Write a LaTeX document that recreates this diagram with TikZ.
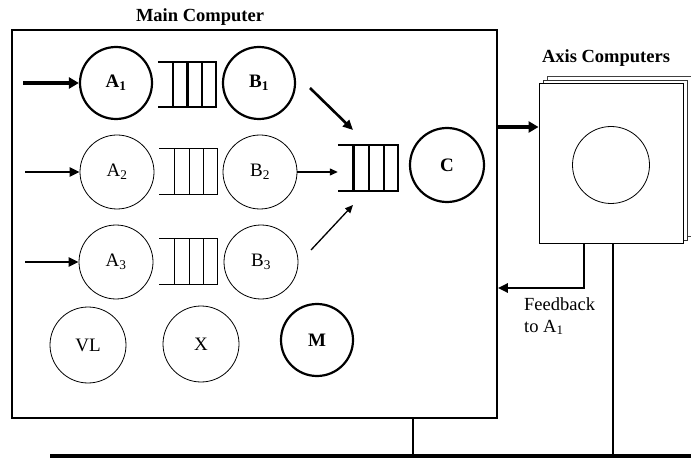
\documentclass[tikz,border=0pt]{standalone}
\usepackage{fontspec}
\setmainfont{Liberation Serif}
\usetikzlibrary{arrows.meta,calc}
\begin{document}
\begin{tikzpicture}[x=1pt,y=-1pt,
  boldc/.style={circle,draw,line width=2.2pt,minimum size=72pt,inner sep=0pt,font=\fontsize{19}{19}\selectfont\bfseries},
  thinc/.style={circle,draw,line width=0.8pt,minimum size=74pt,inner sep=0pt,font=\fontsize{19}{19}\selectfont},
  qbox/.style={rectangle,minimum width=58pt,minimum height=45pt,inner sep=0pt},
  bigarrow/.style={-{Triangle[length=10pt,width=11pt]},line width=3.5pt},
  thinarrow/.style={-{Triangle[length=8pt,width=7pt]},line width=1.3pt},
  medarrow/.style={-{Triangle[length=10pt,width=9pt]},line width=2.6pt},
  title/.style={font=\fontsize{18.5}{18.5}\selectfont\bfseries},
  axbox/.style={draw,line width=0.9pt,fill=white,minimum width=144pt,minimum height=160pt,inner sep=0pt}
]
\useasboundingbox (0,0) rectangle (691,465);

% main computer box
\node[draw,line width=1.6pt,minimum width=485pt,minimum height=388pt,inner sep=0pt] (main) at (254.5,224) {};
\node[title] (maintitle) at (200,17) {Main Computer};

% row 1
\node[boldc] (A1) at (116,83) {A\textsubscript{1}};
\node[qbox] (q1) at (187,84.5) {};
\node[boldc] (B1) at (259,83) {B\textsubscript{1}};
% row 2
\node[thinc] (A2) at (117,172) {A\textsubscript{2}};
\node[qbox] (q2) at (188.5,171.5) {};
\node[thinc] (B2) at (260,172) {B\textsubscript{2}};
% row 3
\node[thinc] (A3) at (116,262) {A\textsubscript{3}};
\node[qbox] (q3) at (188.5,261.5) {};
\node[thinc] (B3) at (261,262) {B\textsubscript{3}};
% bottom row
\node[thinc,minimum size=76pt] (VL) at (88,345) {VL};
\node[thinc,minimum size=76pt] (X) at (201,344) {X};
\node[boldc] (M) at (317,340) {M};

% C
\node[qbox,minimum width=60pt,minimum height=46pt] (qc) at (368,168) {};
\node[boldc,minimum size=74pt] (C) at (447,165) {C};

% queues
\foreach \q/\w in {q1/2.2pt,q2/0.8pt,q3/0.8pt,qc/2.2pt}{
  \draw[line width=\w] (\q.north west) -- (\q.north east) -- (\q.south east) -- (\q.south west);
  \foreach \f in {0.26,0.51,0.76}
    \draw[line width=\w] ($(\q.north west)!\f!(\q.north east)$) -- ($(\q.south west)!\f!(\q.south east)$);
}

% input arrows
\coordinate (in1) at (23,83);
\coordinate (in2) at (25,172);
\coordinate (in3) at (25,262);
\draw[bigarrow] (in1) -- (A1.west);
\draw[medarrow] (in2) -- (A2.west);
\draw[medarrow] (in3) -- (A3.west);

% arrows to C queue
\coordinate (c1s) at (310,88);
\coordinate (c1e) at (353,130);
\draw[medarrow] (c1s) -- (c1e);
\draw[thinarrow] (B2.east) -- (qc.west |- B2.east);
\coordinate (c3s) at (311,250);
\coordinate (c3e) at (353,205);
\draw[thinarrow] (c3s) -- (c3e);

% axis computers
\node[axbox,draw=black!75] (ax3) at (619,156) {};
\node[axbox,draw=black!80] (ax2) at (615,160) {};
\node[axbox] (ax) at (611,163) {};
\node[circle,draw,line width=0.8pt,minimum size=77pt,inner sep=0pt] (axc) at (611,165) {};
\node[title] (axtitle) at (606,58) {Axis Computers};

\draw[bigarrow] (main.east |- 0,127) -- (ax.west |- 0,127);

% feedback
\coordinate (fb1) at (584,288);
\draw[line width=2.5pt,-{Triangle[length=10pt,width=9pt]}] (ax.south -| fb1) -- (fb1) -- (main.east |- fb1);
\node[anchor=north west,align=left,inner sep=0pt,font=\fontsize{18.5}{22}\selectfont] (fbtext) at (524,297) {Feedback\\to A\textsubscript{1}};

% bus
\coordinate (busL) at (50,456);
\coordinate (busR) at (691,456);
\draw[line width=3.5pt] (busL) -- (busR);
\draw[line width=1.2pt] (main.south -| 413,0) -- (413,456);
\draw[line width=1.2pt] (ax.south -| 613,0) -- (613,456);
\end{tikzpicture}
\end{document}
